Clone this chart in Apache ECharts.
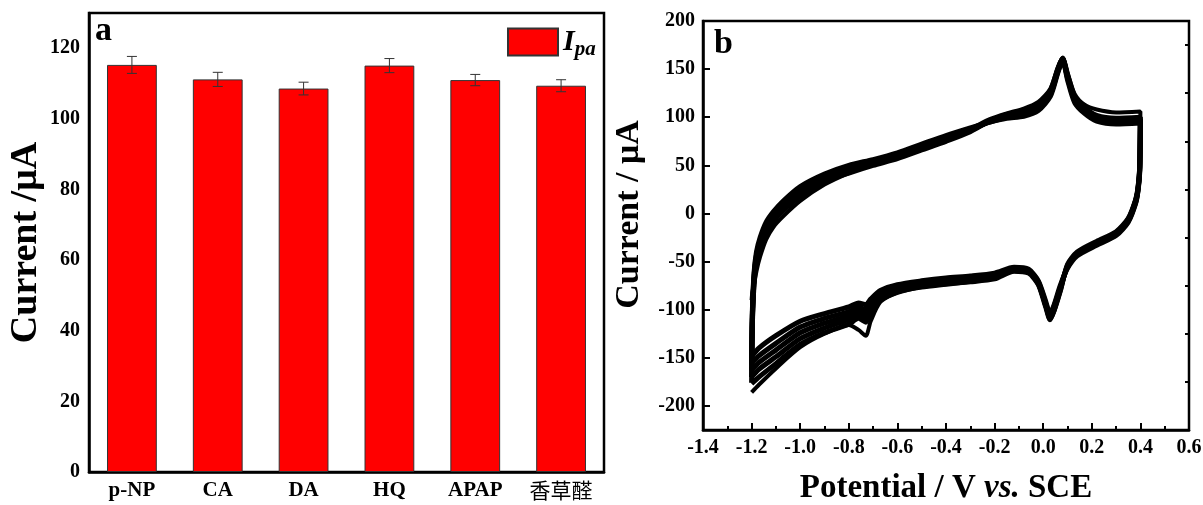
<!DOCTYPE html>
<html>
<head>
<meta charset="utf-8">
<script src="https://cdn.jsdelivr.net/npm/echarts@6/dist/echarts.min.js"></script>
<style>
  html, body { margin: 0; padding: 0; background: #fff; }
  #chart { width: 1203px; height: 505px; }
</style>
</head>
<body>
<div id="chart"></div>
<script>
// panel a: anodic peak current for each interferent
const analytes = ['p-NP', 'CA', 'DA', 'HQ', 'APAP', '香草醛'];
const ipa = [115.3, 111.2, 108.6, 115.1, 111.0, 109.4];
const ipaErr = [2.4, 2.0, 1.8, 2.0, 1.6, 1.7];
const barTicks = [0, 20, 40, 60, 80, 100, 120];
const barMinorTicks = [10, 30, 50, 70, 90, 110];

// panel b: repeated CV cycles (potential path: -1.2 -> 0.4 -> -1.2 V)
const currentTicks = [-200, -150, -100, -50, 0, 50, 100, 150, 200];
const currentMinorTicks = [-175, -125, -75, -25, 25, 75, 125, 175];
const potential = [
  -1.2, -1.197, -1.19, -1.18, -1.165, -1.14, -1.11, -1.07, -1.0, -0.9, -0.8, -0.7, -0.6, -0.5, -0.4,
  -0.3, -0.22, -0.15, -0.08, -0.02, 0.03, 0.06, 0.08, 0.1, 0.13, 0.17, 0.22, 0.3, 0.4,
  0.4, 0.397, 0.39, 0.38, 0.35, 0.3, 0.22, 0.14, 0.1, 0.07, 0.045, 0.028, 0.01, -0.02, -0.06, -0.12,
  -0.2, -0.3, -0.4, -0.5, -0.6, -0.67, -0.71, -0.73, -0.76, -0.8, -0.9, -1.0, -1.1, -1.17, -1.2
];
const cycle1 = [
  -90, -82, -74, -60, -45, -27, -14, -3, 13, 30, 42, 51, 59, 68, 78,
  88, 98, 104, 109, 116, 130, 152, 162, 146, 124, 113, 108, 105, 106,
  106, 50, 28, 15, -5, -19, -30, -41, -55, -80, -102, -111, -97, -74, -61, -60,
  -67, -71, -74, -77, -82, -92, -112, -127, -121, -116, -125, -139, -161, -178, -186
];
const cycle2 = [
  -176, -118, -74, -50, -35, -19, -8, 3, 18, 33, 42, 50, 57, 66, 75,
  85, 96, 103, 107, 113, 128, 150, 161, 145, 121, 110, 102, 99, 100,
  100, 48, 27, 14, -5, -19, -29, -40, -53, -81, -101, -110, -97, -74, -62, -60,
  -68, -71, -73, -76, -82, -90, -103, -113, -109, -115, -124, -136, -156, -170, -177
];
const cycle3 = [
  -170, -114, -71, -47, -32, -16, -5, 6, 21, 35, 44, 52, 59, 68, 77,
  86, 96, 102, 105, 111, 126, 149, 161, 143, 119, 108, 100, 97, 98,
  98, 46, 26, 13, -6, -20, -30, -41, -54, -80, -100, -108, -95, -73, -61, -59,
  -66, -69, -71, -74, -80, -87, -99, -108, -105, -110, -119, -130, -149, -162, -170
];
const cycle4 = [
  -163, -110, -68, -45, -30, -14, -3, 8, 23, 37, 46, 53, 60, 69, 78,
  87, 96, 101, 104, 110, 125, 148, 160, 142, 118, 107, 99, 96, 97,
  97, 45, 25, 12, -7, -21, -31, -42, -55, -78, -98, -107, -94, -72, -60, -58,
  -65, -68, -70, -73, -78, -85, -96, -104, -101, -106, -114, -124, -142, -155, -163
];
const cycle5 = [
  -157, -106, -65, -43, -28, -12, -1, 10, 25, 39, 48, 55, 61, 70, 79,
  88, 95, 100, 103, 109, 124, 147, 160, 141, 117, 106, 98, 95, 96,
  96, 44, 24, 11, -8, -22, -32, -43, -56, -77, -96, -105, -93, -71, -59, -57,
  -64, -67, -69, -72, -76, -83, -93, -100, -97, -102, -109, -118, -135, -148, -156
];
const cycle6 = [
  -150, -102, -62, -40, -25, -9, 2, 13, 28, 41, 50, 56, 63, 72, 81,
  89, 95, 99, 101, 107, 122, 146, 159, 139, 115, 104, 96, 93, 94,
  94, 42, 23, 10, -9, -23, -33, -44, -57, -75, -95, -104, -91, -70, -58, -56,
  -62, -65, -67, -70, -74, -80, -89, -95, -93, -97, -104, -112, -127, -140, -149
];
const cycles = [cycle1, cycle2, cycle3, cycle4, cycle5, cycle6];

const serif = '"Liberation Serif", "Times New Roman", serif';
const cjk = '"Noto Sans CJK SC", sans-serif';

const chart = echarts.init(document.getElementById('chart'), null, { renderer: 'canvas' });

const tickLabel = { fontFamily: serif, fontWeight: 'bold', fontSize: 20, color: '#000' };
const axisLine = { show: true, onZero: false, lineStyle: { color: '#000', width: 2.5 } };
const noLine = { show: false, onZero: false };

const errorBars = {
  type: 'custom',
  xAxisIndex: 0,
  yAxisIndex: 0,
  z: 5,
  silent: true,
  data: analytes.map((a, i) => [i, ipa[i], ipaErr[i]]),
  renderItem: (params, api) => {
    const x = api.value(0);
    const hi = api.coord([x, api.value(1) + api.value(2)]);
    const lo = api.coord([x, api.value(1) - api.value(2)]);
    const half = 5;
    const style = { stroke: '#333', lineWidth: 1 };
    return {
      type: 'group',
      children: [
        { type: 'line', shape: { x1: hi[0], y1: hi[1], x2: lo[0], y2: lo[1] }, style },
        { type: 'line', shape: { x1: hi[0] - half, y1: hi[1], x2: hi[0] + half, y2: hi[1] }, style },
        { type: 'line', shape: { x1: lo[0] - half, y1: lo[1], x2: lo[0] + half, y2: lo[1] }, style }
      ]
    };
  }
};

chart.setOption({
  animation: false,
  backgroundColor: '#fff',
  title: [
    { text: 'a', left: 95, top: 14, padding: 0,
      textStyle: { fontFamily: serif, fontWeight: 'bold', fontSize: 34, color: '#000' } },
    { text: 'b', left: 714, top: 27, padding: 0,
      textStyle: { fontFamily: serif, fontWeight: 'bold', fontSize: 34, color: '#000' } }
  ],
  legend: {
    data: ['Ipa'],
    left: 507,
    top: 27,
    padding: 0,
    itemWidth: 50,
    itemHeight: 27,
    itemGap: 10,
    icon: 'rect',
    formatter: () => '{i|I}{s|pa}',
    textStyle: {
      rich: {
        i: { fontFamily: serif, fontStyle: 'italic', fontWeight: 'bold', fontSize: 30, color: '#000' },
        s: { fontFamily: serif, fontStyle: 'italic', fontWeight: 'bold', fontSize: 21, color: '#000',
             padding: [16, 0, 0, 0] }
      }
    }
  },
  grid: [
    { left: 89, top: 13, width: 515, height: 459, outerBoundsMode: 'none', show: true,
      borderColor: '#000', borderWidth: 2.5, backgroundColor: 'transparent' },
    { left: 703, top: 21, width: 486, height: 409, outerBoundsMode: 'none', show: true,
      borderColor: '#000', borderWidth: 2.5, backgroundColor: 'transparent' }
  ],
  xAxis: [
    {
      type: 'category',
      gridIndex: 0,
      data: analytes,
      axisLine,
      axisTick: { show: false },
      axisLabel: {
        interval: 0,
        margin: 8,
        fontFamily: serif, fontWeight: 'bold', fontSize: 21, color: '#000',
        formatter: v => /[^\x00-\x7f]/.test(v) ? '{c|' + v + '}' : v,
        rich: { c: { fontFamily: cjk, fontWeight: 'normal', fontSize: 21, color: '#000' } }
      },
      splitLine: { show: false }
    },
    {
      type: 'value',
      gridIndex: 1,
      min: -1.4,
      max: 0.6,
      interval: 0.2,
      axisLine,
      axisTick: { inside: true, length: 7, lineStyle: { color: '#000', width: 2 } },
      minorTick: { show: true, splitNumber: 2, length: 4, lineStyle: { color: '#000', width: 2 } },
      axisLabel: { ...tickLabel, margin: 8, formatter: v => v.toFixed(1) },
      splitLine: { show: false },
      name: 'Potential / V {it|vs.} SCE',
      nameLocation: 'middle',
      nameGap: 42,
      nameTextStyle: {
        fontFamily: serif, fontWeight: 'bold', fontSize: 33, color: '#000',
        rich: { it: { fontFamily: serif, fontWeight: 'bold', fontStyle: 'italic', fontSize: 33, color: '#000' } }
      }
    }
  ],
  yAxis: [
    {
      type: 'value',
      gridIndex: 0,
      min: 0,
      max: 130,
      axisLine,
      axisTick: { inside: true, length: 7, customValues: barTicks, lineStyle: { color: '#000', width: 2 } },
      axisLabel: { ...tickLabel, margin: 9, customValues: barTicks },
      splitLine: { show: false },
      name: 'Current /μA',
      nameLocation: 'middle',
      nameGap: 44,
      nameTextStyle: { fontFamily: serif, fontWeight: 'bold', fontSize: 38, color: '#000' }
    },
    {
      type: 'value',
      gridIndex: 0,
      min: 0,
      max: 130,
      axisLine: noLine,
      axisTick: { inside: true, length: 4, customValues: barMinorTicks, lineStyle: { color: '#000', width: 2 } },
      axisLabel: { show: false },
      splitLine: { show: false }
    },
    {
      type: 'value',
      gridIndex: 1,
      min: -225,
      max: 200,
      axisLine,
      axisTick: { inside: true, length: 7, customValues: currentTicks, lineStyle: { color: '#000', width: 2 } },
      axisLabel: { ...tickLabel, margin: 8, customValues: currentTicks },
      splitLine: { show: false },
      name: 'Current / μA',
      nameLocation: 'middle',
      nameGap: 57,
      nameTextStyle: { fontFamily: serif, fontWeight: 'bold', fontSize: 34, color: '#000',
                       padding: [0, 0, 0, 22] }
    },
    {
      type: 'value',
      gridIndex: 1,
      min: -225,
      max: 200,
      axisLine: noLine,
      axisTick: { inside: true, length: 4, customValues: currentMinorTicks, lineStyle: { color: '#000', width: 2 } },
      axisLabel: { show: false },
      splitLine: { show: false }
    }
  ],
  series: [
    {
      name: 'Ipa',
      type: 'bar',
      xAxisIndex: 0,
      yAxisIndex: 0,
      barWidth: '58%',
      data: ipa,
      itemStyle: { color: '#ff0000', borderColor: '#333', borderWidth: 1 }
    },
    errorBars,
    ...cycles.map((c, k) => ({
      name: 'cycle ' + (k + 1),
      type: 'line',
      xAxisIndex: 1,
      yAxisIndex: 2,
      showSymbol: false,
      smooth: 0.25,
      lineStyle: { color: '#000', width: k === 0 ? 4 : 5 },
      data: potential.map((e, i) => [e, c[i]])
    }))
  ]
});
</script>
</body>
</html>
